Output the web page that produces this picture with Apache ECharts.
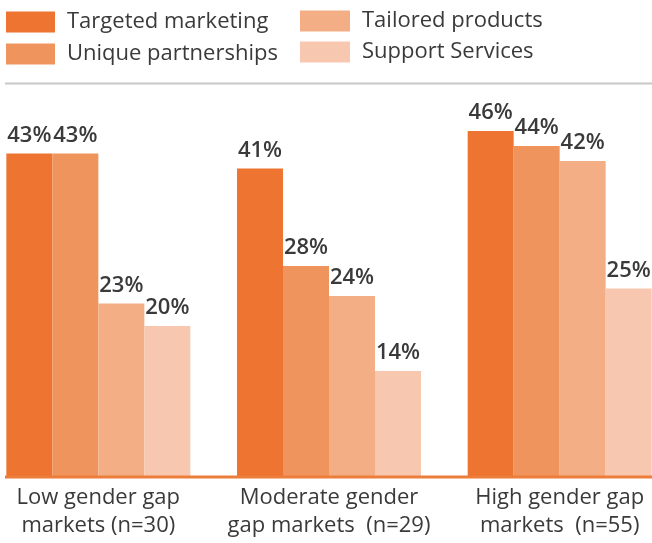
<!DOCTYPE html>
<html>
<head>
<meta charset="utf-8">
<script src="https://cdn.jsdelivr.net/npm/echarts@6/dist/echarts.min.js"></script>
<style>
  html, body { margin: 0; padding: 0; background: #fff; overflow: hidden; }
  body { width: 652px; height: 543px; position: relative; }
  /* the plot runs slightly past both window edges, so the canvas is wider and shifted left */
  #chart { position: absolute; left: -17px; top: 0; width: 692px; height: 543px; }
</style>
</head>
<body>
<div id="chart"></div>
<script>
// Market segments and the share of respondents using each strategy (%)
const categories = [
  'Low gender gap\nmarkets (n=30)',
  'Moderate gender\ngap markets  (n=29)',
  'High gender gap\nmarkets  (n=55)'
];
const seriesNames = ['Targeted marketing', 'Unique partnerships', 'Tailored products', 'Support Services'];
const targetedMarketing = [43, 41, 46];
const uniquePartnerships = [43, 28, 44];
const tailoredProducts = [23, 24, 42];
const supportServices = [20, 14, 25];

const seriesData = [targetedMarketing, uniquePartnerships, tailoredProducts, supportServices];
const colors = ['#ED7531', '#F0945D', '#F4AE85', '#F7C8AF'];
const textColor = '#3a3a3a';
const fontFamily = '"Open Sans", "Noto Sans", sans-serif';
const shift = 17; // canvas offset relative to the window

const chart = echarts.init(document.getElementById('chart'));

const legendText = {
  color: textColor,
  fontSize: 22,
  fontFamily: fontFamily,
  padding: [0, 0, 0, 7]
};

chart.setOption({
  animation: false,
  color: colors,
  legend: [
    {
      data: seriesNames.slice(0, 2),
      orient: 'vertical',
      left: 6 + shift,
      top: 11,
      padding: 0,
      itemWidth: 49,
      itemHeight: 21,
      itemGap: 10,
      icon: 'rect',
      textStyle: legendText,
      selectedMode: false
    },
    {
      data: seriesNames.slice(2, 4),
      orient: 'vertical',
      left: 300 + shift,
      top: 10,
      padding: 0,
      itemWidth: 50,
      itemHeight: 21,
      itemGap: 9,
      icon: 'rect',
      textStyle: legendText,
      selectedMode: false
    }
  ],
  grid: {
    left: 0,
    right: 0,
    top: 101,
    bottom: 67,
    containLabel: false
  },
  xAxis: {
    type: 'category',
    data: categories,
    axisLine: { show: false },
    axisTick: { show: false },
    axisLabel: {
      color: textColor,
      fontSize: 22,
      fontFamily: fontFamily,
      lineHeight: 28,
      margin: 8,
      interval: 0
    }
  },
  yAxis: {
    type: 'value',
    min: 0,
    max: 50,
    show: false,
    splitLine: { show: false }
  },
  series: seriesNames.map((name, i) => ({
    name: name,
    type: 'bar',
    data: seriesData[i],
    barWidth: 46,
    barGap: '0%',
    itemStyle: { color: colors[i] },
    label: {
      show: true,
      position: 'top',
      distance: 7,
      formatter: '{c}%',
      color: textColor,
      fontSize: 22,
      fontWeight: 600,
      fontFamily: fontFamily
    }
  })),
  graphic: [
    {
      type: 'line',
      shape: { x1: 5 + shift, y1: 83.5, x2: 652 + shift, y2: 83.5 },
      style: { stroke: '#c8c8c8', lineWidth: 2 }
    },
    {
      type: 'line',
      shape: { x1: 5 + shift, y1: 477, x2: 652 + shift, y2: 477 },
      style: { stroke: '#ED7D3A', lineWidth: 3 },
      z: 10
    }
  ]
});
</script>
</body>
</html>
